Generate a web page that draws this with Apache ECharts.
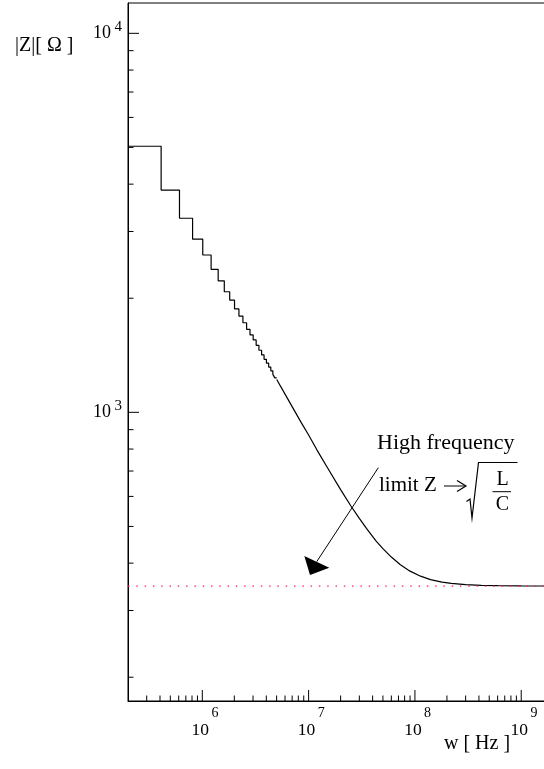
<!DOCTYPE html>
<html>
<head>
<meta charset="utf-8">
<script src="https://cdn.jsdelivr.net/npm/echarts@6/dist/echarts.min.js"></script>
<style>
  html, body { margin: 0; padding: 0; background: #fff; }
  #chart { width: 544px; height: 769px; }
</style>
</head>
<body>
<div id="chart"></div>
<script>
// Low-frequency histogram: bin edges (Hz, first one clipped at the axis minimum) and contents |Z| (Ohm)
const binEdges = [2e5, 4.1e5, 6.1e5, 8.1e5, 1.01e6, 1.21e6, 1.41e6, 1.61e6, 1.81e6, 2.01e6,
                  2.21e6, 2.41e6, 2.61e6, 2.81e6, 3.01e6, 3.21e6, 3.41e6, 3.61e6, 3.81e6, 4.01e6,
                  4.21e6, 4.41e6, 4.61e6, 4.81e6, 5.01e6];
const binValues = [5035, 3859, 3251, 2864, 2601, 2384, 2223, 2080, 1977, 1874,
                   1795, 1723, 1656, 1600, 1552, 1502, 1458, 1417, 1380, 1348,
                   1316, 1287, 1259, 1233];

// Higher-frequency part of |Z|(w), where the bins are narrower than a pixel
const curveFreq = [5.01e6, 6.0e6, 7.0e6, 8.5e6, 1.0e7, 1.2e7, 1.5e7, 2.0e7, 2.5e7, 3.0e7,
                   3.5e7, 4.3e7, 5.0e7, 6.0e7, 7.3e7, 9.0e7, 1.13e8, 1.4e8, 1.8e8, 2.2e8,
                   3.0e8, 4.2e8, 6.0e8, 1.0e9, 1.71e9];
const curveZ = [1221, 1117, 1035, 941, 871, 795, 715, 625, 566, 525,
                494, 458, 437, 415, 396, 381, 369.5, 362, 356.5, 353.8,
                351, 349.5, 348.8, 348.3, 348.1];

// High-frequency limit sqrt(L/C) in Ohm
const zLimit = 348;

// Axis ranges
const xRange = [2e5, 1.71e9];
const yRange = [173.1, 12023];

// Tick positions
const xMajorTicks = [1e6, 1e7, 1e8, 1e9];
const yMajorTicks = [1e3, 1e4];
const minorMultipliers = [2, 3, 4, 5, 6, 7, 8, 9];
const xMinorDecades = [1e5, 1e6, 1e7, 1e8];
const yMinorDecades = [1e2, 1e3];

function inRange(v, r) { return v > r[0] * 1.0001 && v < r[1] * 0.9999; }
function minorList(decades, range) {
  const out = [];
  decades.forEach(d => minorMultipliers.forEach(m => { if (inRange(m * d, range)) out.push(m * d); }));
  return out;
}

const MAJOR_LEN = 11, MINOR_LEN = 5.5;
const xTickData = xMajorTicks.map(v => [v, yRange[0], MAJOR_LEN])
  .concat(minorList(xMinorDecades, xRange).map(v => [v, yRange[0], MINOR_LEN]));
const yTickData = yMajorTicks.map(v => [xRange[0], v, MAJOR_LEN])
  .concat(minorList(yMinorDecades, yRange).map(v => [xRange[0], v, MINOR_LEN]));

const stepData = binEdges.map((e, i) => [e, binValues[Math.min(i, binValues.length - 1)]]);
const curveData = curveFreq.map((f, i) => [f, curveZ[i]]);
const limitData = [[xRange[0], zLimit], [xRange[1], zLimit]];

const FONT = 'Liberation Serif';
// x labels: exponent sits well above the mantissa; y labels: exponent only slightly raised
const xLabelRich = {
  b: { fontFamily: FONT, fontSize: 17.5, color: '#000', lineHeight: 18 },
  e: { fontFamily: FONT, fontSize: 14, color: '#000', lineHeight: 14, padding: [0, 0, 33, 2.4] }
};
const yLabelRich = {
  b: { fontFamily: FONT, fontSize: 18, color: '#000', lineHeight: 18 },
  e: { fontFamily: FONT, fontSize: 15, color: '#000', lineHeight: 15, padding: [0, 0, 13, 3.5] }
};
function powerLabel(v) {
  const p = Math.log10(v);
  const r = Math.round(p);
  return Math.abs(p - r) < 1e-6 ? '{b|10}{e|' + r + '}' : '';
}

const chart = echarts.init(document.getElementById('chart'), null, { renderer: 'canvas' });

chart.setOption({
  animation: false,
  backgroundColor: '#fff',
  grid: {
    left: 128, top: 3, right: -2, bottom: 68,
    show: true, borderColor: '#000', borderWidth: 1,
    outerBoundsMode: 'none'
  },
  xAxis: {
    type: 'log', logBase: 10, min: xRange[0], max: xRange[1],
    axisLine: { show: true, lineStyle: { color: '#000', width: 1 } },
    axisTick: { show: false },
    splitLine: { show: false },
    axisLabel: {
      show: true, margin: 20, formatter: powerLabel, rich: xLabelRich,
      padding: [0, 0, 0, 5.4], showMinLabel: true, showMaxLabel: true
    }
  },
  yAxis: {
    type: 'log', logBase: 10, min: yRange[0], max: yRange[1],
    axisLine: { show: true, lineStyle: { color: '#000', width: 1 } },
    axisTick: { show: false },
    splitLine: { show: false },
    axisLabel: {
      show: true, margin: 6, formatter: powerLabel, rich: yLabelRich,
      showMinLabel: true, showMaxLabel: true
    }
  },
  series: [
    {
      // histogram stairs
      type: 'line', data: stepData, step: 'end', symbol: 'none',
      lineStyle: { color: '#000', width: 1.2 }, silent: true
    },
    {
      type: 'line', data: curveData, symbol: 'none',
      lineStyle: { color: '#000', width: 1.2 }, silent: true
    },
    {
      // dotted line at the high-frequency limit
      type: 'line', data: limitData, symbol: 'none',
      lineStyle: { color: '#ff2255', width: 1.3, type: [1.5, 6.8] }, silent: true
    },
    {
      type: 'custom', data: xTickData, silent: true, clip: false,
      renderItem: (params, api) => {
        const p = api.coord([api.value(0), api.value(1)]);
        const len = api.value(2);
        return { type: 'line', shape: { x1: p[0], y1: p[1], x2: p[0], y2: p[1] - len },
                 style: { stroke: '#000', lineWidth: 1 } };
      }
    },
    {
      type: 'custom', data: yTickData, silent: true, clip: false,
      renderItem: (params, api) => {
        const p = api.coord([api.value(0), api.value(1)]);
        const len = api.value(2);
        return { type: 'line', shape: { x1: p[0], y1: p[1], x2: p[0] + len, y2: p[1] },
                 style: { stroke: '#000', lineWidth: 1 } };
      }
    }
  ],
  graphic: [
    { type: 'text', x: 15, y: 46,
      style: { text: '|Z|[ \u03A9 ]', font: '20px "Liberation Serif"', fill: '#000', align: 'left', verticalAlign: 'middle' } },
    { type: 'text', x: 444, y: 744,
      style: { text: 'w [ Hz ]', font: '20px "Liberation Serif"', fill: '#000', align: 'left', verticalAlign: 'middle' } },
    { type: 'text', x: 377, y: 443.6,
      style: { text: 'High frequency', font: '22px "Liberation Serif"', fill: '#000', align: 'left', verticalAlign: 'middle' } },
    { type: 'text', x: 379, y: 485.8,
      style: { text: 'limit Z', font: '21px "Liberation Serif"', fill: '#000', align: 'left', verticalAlign: 'middle' } },
    // "->" after Z
    { type: 'polyline', shape: { points: [[444, 486], [465, 486]] }, style: { stroke: '#000', lineWidth: 1 } },
    { type: 'polyline', shape: { points: [[457, 480.5], [466, 486], [457, 491.5]] }, style: { stroke: '#000', lineWidth: 1.2, fill: null } },
    // square root sign
    { type: 'polyline', shape: { points: [[466.5, 501.5], [470, 499], [472, 518], [478.5, 462.5], [517.5, 462.5]] },
      style: { stroke: '#000', lineWidth: 1.2, fill: null } },
    { type: 'text', x: 502.5, y: 480,
      style: { text: 'L', font: '20px "Liberation Serif"', fill: '#000', align: 'center', verticalAlign: 'middle' } },
    { type: 'line', shape: { x1: 492.5, y1: 491.7, x2: 511, y2: 491.7 }, style: { stroke: '#000', lineWidth: 1 } },
    { type: 'text', x: 502.5, y: 505,
      style: { text: 'C', font: '20px "Liberation Serif"', fill: '#000', align: 'center', verticalAlign: 'middle' } },
    // annotation arrow
    { type: 'line', shape: { x1: 378.3, y1: 467.7, x2: 316.7, y2: 561.7 }, style: { stroke: '#000', lineWidth: 1 } },
    { type: 'polygon', shape: { points: [[304.3, 556], [329.3, 567.7], [310, 575]] }, style: { fill: '#000' } }
  ]
});
</script>
</body>
</html>
